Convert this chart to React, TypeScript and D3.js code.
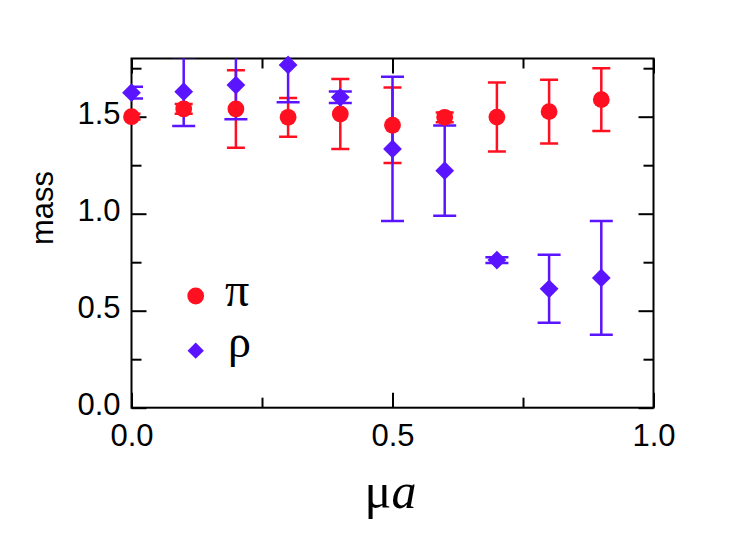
import React, { useEffect, useRef } from 'react'
import * as d3 from 'd3'

// mu*a values shared by both series
const muA = [0.0, 0.1, 0.2, 0.3, 0.4, 0.5, 0.6, 0.7, 0.8, 0.9]

// pi mass and error
const piMass = [1.5, 1.54, 1.54, 1.497, 1.514, 1.456, 1.497, 1.498, 1.526, 1.588]
const piErr = [0.015, 0.025, 0.2, 0.1, 0.18, 0.195, 0.025, 0.178, 0.164, 0.162]

// rho mass and error
const rhoMass = [1.624, 1.629, 1.663, 1.767, 1.6, 1.334, 1.222, 0.761, 0.613, 0.669]
const rhoErr = [0.03, 0.177, 0.176, 0.193, 0.03, 0.372, 0.232, 0.015, 0.175, 0.293]

const xMajor = [0, 0.5, 1.0]
const xMinor = [0.25, 0.75]
const yMajor = [0, 0.5, 1.0, 1.5]
const yMinor = [0.25, 0.75, 1.25, 1.75]

const RED = '#ff1020'
const BLUE = '#5a14ff'

const App = () => {
  const ref = useRef<SVGSVGElement>(null)

  useEffect(() => {
    draw()
  })

  const draw = () => {
    const svg = d3.select(ref.current)
    svg.selectAll('*').remove()

    const left = 131.5
    const right = 653.5
    const top = 58.5
    const bottom = 407.7

    const x = d3.scaleLinear().domain([0, 1]).range([left, right])
    const y = d3.scaleLinear().domain([0, 1.8]).range([bottom, top])

    const font = '"Liberation Sans", Arial, sans-serif'

    const addAxis = (axis: d3.Axis<d3.NumberValue>, tx: number, ty: number, labels: boolean) => {
      const g = svg.append('g').attr('transform', `translate(${tx},${ty})`).call(axis)
      g.select('.domain').remove()
      g.selectAll('line').attr('stroke', '#000').attr('stroke-width', 2)
      g.selectAll('text')
        .attr('font-family', font)
        .attr('font-size', 31)
        .attr('fill', '#000')
      if (!labels) g.selectAll('text').remove()
      return g
    }

    const fmt = d3.format('.1f')
    // bottom
    addAxis(d3.axisBottom(x).tickValues(xMajor).tickSize(-15).tickPadding(16).tickFormat((d) => fmt(d as number)), 0, bottom, true)
    addAxis(d3.axisBottom(x).tickValues(xMinor).tickSize(-10), 0, bottom, false)
    // top
    addAxis(d3.axisTop(x).tickValues(xMajor).tickSize(-15), 0, top, false)
    addAxis(d3.axisTop(x).tickValues(xMinor).tickSize(-10), 0, top, false)
    // left
    const gl = addAxis(d3.axisLeft(y).tickValues(yMajor).tickSize(-15).tickPadding(11).tickFormat((d) => fmt(d as number)), left, 0, true)
    gl.selectAll('text').attr('dy', '0.22em')
    addAxis(d3.axisLeft(y).tickValues(yMinor).tickSize(-10), left, 0, false)
    // right
    addAxis(d3.axisRight(y).tickValues(yMajor).tickSize(-15), right, 0, false)
    addAxis(d3.axisRight(y).tickValues(yMinor).tickSize(-10), right, 0, false)

    svg
      .append('rect')
      .attr('x', left)
      .attr('y', top)
      .attr('width', right - left)
      .attr('height', bottom - top)
      .attr('fill', 'none')
      .attr('stroke', '#000')
      .attr('stroke-width', 2)

    svg
      .append('clipPath')
      .attr('id', 'plotclip')
      .append('rect')
      .attr('x', left)
      .attr('y', top)
      .attr('width', right - left)
      .attr('height', bottom - top)

    const errG = svg.append('g').attr('clip-path', 'url(#plotclip)')

    const errorBars = (mass: number[], err: number[], color: string, cap: number) => {
      const g = errG.append('g').attr('stroke', color).attr('stroke-width', 2.5).attr('fill', 'none')
      muA.forEach((m, i) => {
        const cx = x(m)
        const y1 = y(mass[i] + err[i])
        const y2 = y(mass[i] - err[i])
        g.append('line').attr('x1', cx).attr('x2', cx).attr('y1', y1).attr('y2', y2)
        g.append('line').attr('x1', cx - cap).attr('x2', cx + cap).attr('y1', y1).attr('y2', y1)
        g.append('line').attr('x1', cx - cap).attr('x2', cx + cap).attr('y1', y2).attr('y2', y2)
      })
    }
    errorBars(piMass, piErr, RED, 9)
    errorBars(rhoMass, rhoErr, BLUE, 11.5)

    const diamond = d3.symbol().type(d3.symbolDiamond2).size(225)

    svg
      .append('g')
      .selectAll('circle')
      .data(muA)
      .enter()
      .append('circle')
      .attr('cx', (d) => x(d))
      .attr('cy', (_d, i) => y(piMass[i]))
      .attr('r', 8.4)
      .attr('fill', RED)

    svg
      .append('g')
      .selectAll('path')
      .data(muA)
      .enter()
      .append('path')
      .attr('d', diamond)
      .attr('transform', (d, i) => `translate(${x(d)},${y(rhoMass[i])})`)
      .attr('fill', BLUE)

    // legend
    const serif = '"Liberation Serif", "Times New Roman", serif'
    svg.append('circle').attr('cx', 195.7).attr('cy', 296).attr('r', 8.4).attr('fill', RED)
    svg
      .append('path')
      .attr('d', d3.symbol().type(d3.symbolDiamond2).size(170)())
      .attr('transform', 'translate(195.7,350.7)')
      .attr('fill', BLUE)
    svg
      .append('text')
      .attr('x', 225)
      .attr('y', 306)
      .attr('font-family', serif)
      .attr('font-size', 48)
      .text('π')
    svg
      .append('text')
      .attr('x', 228)
      .attr('y', 357)
      .attr('font-family', serif)
      .attr('font-size', 46)
      .text('ρ')

    // axis titles
    svg
      .append('text')
      .attr('transform', 'translate(53,208) rotate(-90)')
      .attr('text-anchor', 'middle')
      .attr('font-family', font)
      .attr('font-size', 31)
      .text('mass')

    const xt = svg
      .append('text')
      .attr('x', 390.5)
      .attr('y', 508)
      .attr('text-anchor', 'middle')
      .attr('font-family', serif)
      .attr('font-size', 50)
    xt.append('tspan').text('μ')
    xt.append('tspan').attr('font-style', 'italic').text('a')
  }

  return (
    <svg
      ref={ref}
      width={747}
      height={549}
      style={{ position: 'absolute', left: 0, top: 0, display: 'block', background: '#fff' }}
    />
  )
}

export default App
